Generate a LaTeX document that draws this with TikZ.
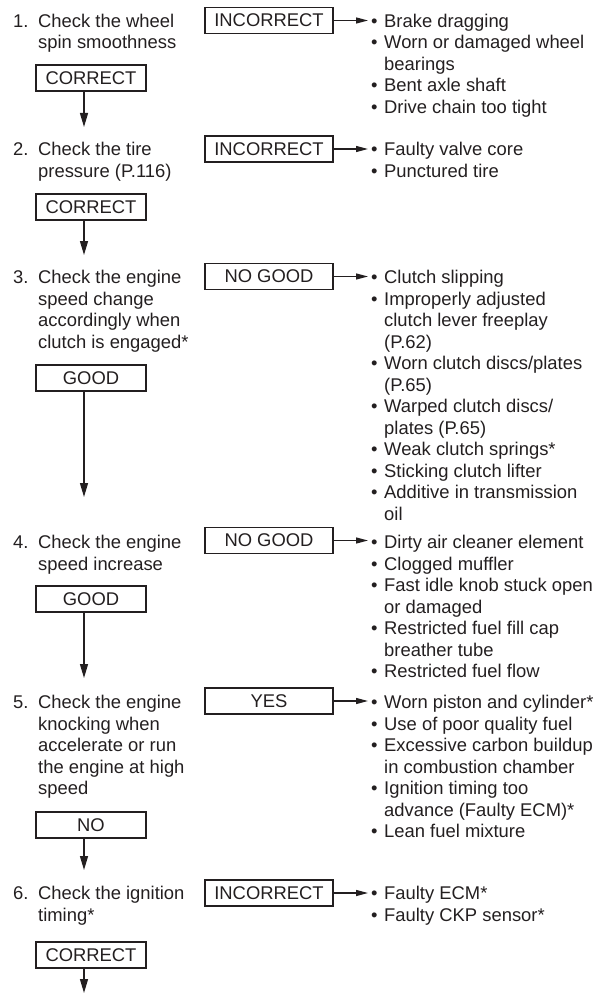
\documentclass[tikz,border=0pt]{standalone}
\usepackage{fontspec}
\setmainfont{Liberation Sans}
\usetikzlibrary{arrows.meta}
\definecolor{ink}{HTML}{231F20}
\newcommand{\itm}{\makebox[13pt][l]{\textbullet}}
\newcommand{\cnt}{\hspace*{13pt}}
\newcommand{\txtlines}[1]{\begin{tabular}[t]{@{}l@{}}#1\end{tabular}}

\begin{document}
\begin{tikzpicture}[
    x=1pt,y=-1pt,
    every node/.style={text=ink,font=\fontsize{18.4}{21.5}\selectfont},
    txt/.style={anchor=base west,inner sep=0pt},
    okbox/.style={draw=ink,line width=1.3pt,minimum width=110pt,minimum height=26pt,inner sep=0pt},
    badbox/.style={okbox,minimum width=128pt},
    down/.style={draw=ink,line width=1.3pt,-{Triangle[length=14pt,width=8pt]}},
    side/.style={draw=ink,line width=1.3pt,-{Triangle[length=12pt,width=6pt]},shorten >=3pt},
  ]
  \useasboundingbox (0,0) rectangle (594,995);

  % 1
  \node[txt] (num1) at (13,27.5) {1.};
  \node[txt] (s1) at (38,27.5) {\txtlines{Check the wheel\\spin smoothness}};
  \node[badbox] (bad1) at (269,20.5) {INCORRECT};
  \node[txt] (c1) at (371,27.5) {\txtlines{\itm Brake dragging\\\itm Worn or damaged wheel\\\cnt bearings\\\itm Bent axle shaft\\\itm Drive chain too tight}};
  \node[okbox] (ok1) at (91,78) {CORRECT};
  \coordinate (e1) at (84,127);
  \draw[down] (ok1.south -| e1) -- (e1);
  \draw[side] (bad1.east) -- (bad1.east -| c1.west);

  % 2
  \node[txt] (num2) at (13,156) {2.};
  \node[txt] (s2) at (38,156) {\txtlines{Check the tire\\pressure (P.116)}};
  \node[badbox] (bad2) at (269,149) {INCORRECT};
  \node[txt] (c2) at (371,156) {\txtlines{\itm Faulty valve core\\\itm Punctured tire}};
  \node[okbox] (ok2) at (91,207) {CORRECT};
  \coordinate (e2) at (84,255);
  \draw[down] (ok2.south -| e2) -- (e2);
  \draw[side] (bad2.east) -- (bad2.east -| c2.west);

  % 3
  \node[txt] (num3) at (13,283.5) {3.};
  \node[txt] (s3) at (38,283.5) {\txtlines{Check the engine\\speed change\\accordingly when\\clutch is engaged*}};
  \node[badbox] (bad3) at (269,276.5) {NO GOOD};
  \node[txt] (c3) at (371,283.5) {\txtlines{\itm Clutch slipping\\\itm Improperly adjusted\\\cnt clutch lever freeplay\\\cnt (P.62)\\\itm Worn clutch discs/plates\\\cnt (P.65)\\\itm Warped clutch discs/\\\cnt plates (P.65)\\\itm Weak clutch springs*\\\itm Sticking clutch lifter\\\itm Additive in transmission\\\cnt oil}};
  \node[okbox] (ok3) at (91,378) {GOOD};
  \coordinate (e3) at (84,497);
  \draw[down] (ok3.south -| e3) -- (e3);
  \draw[side] (bad3.east) -- (bad3.east -| c3.west);

  % 4
  \node[txt] (num4) at (13,548.5) {4.};
  \node[txt] (s4) at (38,548.5) {\txtlines{Check the engine\\speed increase}};
  \node[badbox] (bad4) at (269,540.5) {NO GOOD};
  \node[txt] (c4) at (371,548.5) {\txtlines{\itm Dirty air cleaner element\\\itm Clogged muffler\\\itm Fast idle knob stuck open\\\cnt or damaged\\\itm Restricted fuel fill cap\\\cnt breather tube\\\itm Restricted fuel flow}};
  \node[okbox] (ok4) at (91,599) {GOOD};
  \coordinate (e4) at (84,678);
  \draw[down] (ok4.south -| e4) -- (e4);
  \draw[side] (bad4.east) -- (bad4.east -| c4.west);

  % 5
  \node[txt] (num5) at (13,708.5) {5.};
  \node[txt] (s5) at (38,708.5) {\txtlines{Check the engine\\knocking when\\accelerate or run\\the engine at high\\speed}};
  \node[badbox] (bad5) at (269,701) {YES};
  \node[txt] (c5) at (371,708.5) {\txtlines{\itm Worn piston and cylinder*\\\itm Use of poor quality fuel\\\itm Excessive carbon buildup\\\cnt in combustion chamber\\\itm Ignition timing too\\\cnt advance (Faulty ECM)*\\\itm Lean fuel mixture}};
  \node[okbox] (ok5) at (91,825) {NO};
  \coordinate (e5) at (84,870);
  \draw[down] (ok5.south -| e5) -- (e5);
  \draw[side] (bad5.east) -- (bad5.east -| c5.west);

  % 6
  \node[txt] (num6) at (13,899.5) {6.};
  \node[txt] (s6) at (38,899.5) {\txtlines{Check the ignition\\timing*}};
  \node[badbox] (bad6) at (269,893) {INCORRECT};
  \node[txt] (c6) at (371,899.5) {\txtlines{\itm Faulty ECM*\\\itm Faulty CKP sensor*}};
  \node[okbox] (ok6) at (91,955) {CORRECT};
  \coordinate (e6) at (84,993);
  \draw[down] (ok6.south -| e6) -- (e6);
  \draw[side] (bad6.east) -- (bad6.east -| c6.west);
\end{tikzpicture}
\end{document}
